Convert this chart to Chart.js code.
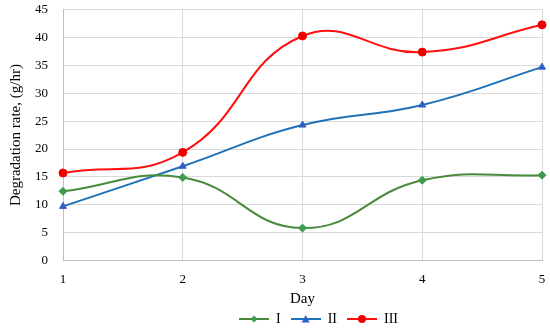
<!DOCTYPE html>
<html>
<head>
<meta charset="utf-8">
<script src="https://cdn.jsdelivr.net/npm/chart.js@4"></script>
<style>
  html, body { margin: 0; padding: 0; background: #fff; }
  #wrap { width: 550px; height: 328px; }
</style>
</head>
<body>
<div id="wrap"><canvas id="chart"></canvas></div>
<script>
const days = ['1', '2', '3', '4', '5']
const seriesI = [12.4, 14.9, 5.8, 14.4, 15.3]
const seriesII = [9.7, 16.9, 24.3, 27.9, 34.7]
const seriesIII = [15.7, 19.4, 40.3, 37.4, 42.3]

const font = 'Liberation Serif'

// little legend swatch: line with the marker on it
function swatch(color, marker, style) {
    const c = document.createElement('canvas')
    c.width = 30
    c.height = 12
    const g = c.getContext('2d')
    g.strokeStyle = color
    g.lineWidth = 2
    g.beginPath()
    g.moveTo(0, 6)
    g.lineTo(30, 6)
    g.stroke()
    g.fillStyle = marker
    g.beginPath()
    if (style === 'rectRot') {
        g.moveTo(15, 2.5); g.lineTo(18.5, 6); g.lineTo(15, 9.5); g.lineTo(11.5, 6)
    } else if (style === 'triangle') {
        g.moveTo(15, 2); g.lineTo(19, 9.5); g.lineTo(11, 9.5)
    } else {
        g.arc(15, 6, 4, 0, Math.PI * 2)
    }
    g.closePath()
    g.fill()
    return c
}

// legend sits a bit right of centre in the original
const nudgeLegend = {
    id: 'nudgeLegend',
    afterLayout(chart) {
        chart.legend.left += 16
        chart.legend.right += 16
    }
}

const ctx = document.getElementById('chart')
new Chart(ctx, {
    type: 'line',
    data: {
        labels: days,
        datasets: [
            {
                label: 'I',
                data: seriesI,
                borderColor: '#4a8a3c',
                backgroundColor: '#3d9a4e',
                pointBorderColor: '#3d9a4e',
                pointStyle: 'rectRot',
                pointRadius: 4,
                pointBorderWidth: 1,
                borderWidth: 2,
                tension: 0.45,
            },
            {
                label: 'II',
                data: seriesII,
                borderColor: '#1f72b8',
                backgroundColor: '#2f5fc4',
                pointBorderColor: '#2f5fc4',
                pointStyle: 'triangle',
                pointRadius: 4,
                pointBorderWidth: 1,
                borderWidth: 2,
                tension: 0.45,
            },
            {
                label: 'III',
                data: seriesIII,
                borderColor: '#ff1010',
                backgroundColor: '#ee0000',
                pointBorderColor: '#ee0000',
                pointStyle: 'circle',
                pointRadius: 4,
                pointBorderWidth: 1,
                borderWidth: 2,
                tension: 0.45,
            },
        ]
    },
    options: {
        responsive: true,
        maintainAspectRatio: false,
        animation: false,
        layout: { padding: { top: 0, right: 8, left: 7, bottom: -8 } },
        scales: {
            x: {
                offset: false,
                grid: { color: '#d9d9d9', drawTicks: true, tickLength: 11, tickColor: 'transparent' },
                border: { color: '#bfbfbf' },
                ticks: { color: '#000', font: { family: font, size: 13 }, padding: 0 },
                title: { display: true, text: 'Day', color: '#000', font: { family: font, size: 15, lineHeight: 1 }, padding: { top: 5, bottom: -5 } },
            },
            y: {
                min: 0,
                max: 45,
                ticks: { stepSize: 5, color: '#000', font: { family: font, size: 13 }, padding: 2 },
                grid: { color: '#d9d9d9', drawTicks: true, tickLength: 13, tickColor: 'transparent' },
                border: { color: '#bfbfbf' },
                title: { display: true, text: 'Degradation rate, (g/hr)', color: '#000', font: { family: font, size: 15 }, padding: { top: 0, bottom: 8 } },
            }
        },
        plugins: {
            legend: {
                position: 'bottom',
                fullSize: false,
                labels: {
                    color: '#000',
                    font: { family: font, size: 14 },
                    usePointStyle: true,
                    pointStyleWidth: 30,
                    padding: 10,
                    boxHeight: 12,
                    generateLabels: (chart) => chart.data.datasets.map((ds, i) => ({
                        text: ds.label,
                        pointStyle: swatch(ds.borderColor, ds.backgroundColor, ds.pointStyle),
                        datasetIndex: i,
                        fontColor: '#000',
                        lineWidth: 0,
                    })),
                }
            },
            tooltip: { enabled: false }
        }
    },
    plugins: [nudgeLegend],
})
</script>
</body>
</html>
